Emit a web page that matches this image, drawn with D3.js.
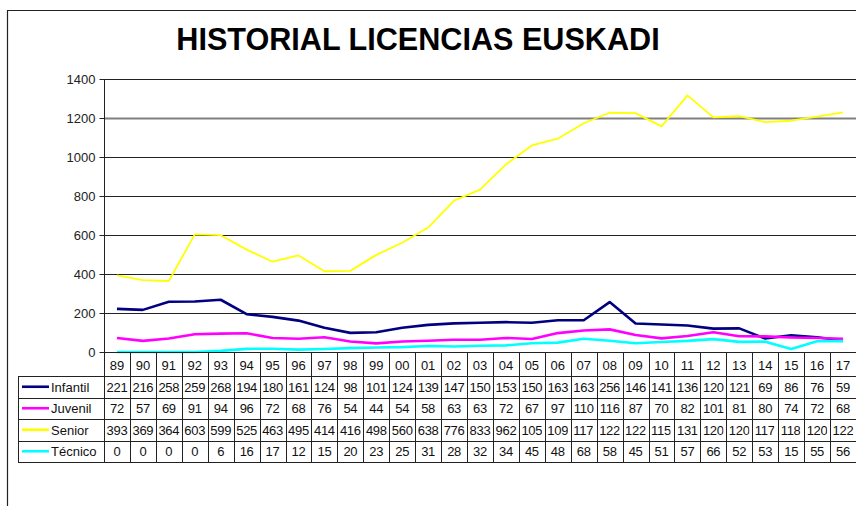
<!DOCTYPE html>
<html>
<head>
<meta charset="utf-8">
<script src="https://cdn.jsdelivr.net/npm/d3@7"></script>
<style>
  body { margin: 0; background: #fff; }
  svg { display: block; font-family: Arial, "Liberation Sans", sans-serif; }
</style>
</head>
<body>
<svg id="chart" width="856" height="506"></svg>
<script>
var years = ['89','90','91','92','93','94','95','96','97','98','99','00','01','02','03','04','05','06','07','08','09','10','11','12','13','14','15','16','17'];
var infantil = [221,216,258,259,268,194,180,161,124,98,101,124,139,147,150,153,150,163,163,256,146,141,136,120,121,69,86,76,59];
var juvenil = [72,57,69,91,94,96,72,68,76,54,44,54,58,63,63,72,67,97,110,116,87,70,82,101,81,80,74,72,68];
var senior = [393,369,364,603,599,525,463,495,414,416,498,560,638,776,833,962,1059,1094,1173,1227,1225,1157,1316,1203,1209,1179,1186,1207,1229];
var tecnico = [0,0,0,0,6,16,17,12,15,20,23,25,31,28,32,34,45,48,68,58,45,51,57,66,52,53,15,55,56];
var yTicks = [0,200,400,600,800,1000,1200,1400];

var series = [
  {name: 'Infantil', values: infantil, color: '#000080', width: 2.6},
  {name: 'Juvenil', values: juvenil, color: '#ff00ff', width: 2.6},
  {name: 'Senior', values: senior, color: '#ffff00', width: 1.8},
  {name: 'Técnico', values: tecnico, color: '#00ffff', width: 2.6}
];

var
  svg = d3.select('#chart'),
  plotLeft = 104,
  plotRight = 856,
  tableLeft = 18,
  headerBottom = 376,
  tableBottom = 462,
  xScale = d3.scaleBand().domain(years).range([plotLeft, plotRight]),
  yScale = d3.scaleLinear().domain([0, 1400]).range([352, 79]),
  rowScale = d3.scaleBand().domain(series.map(d => d.name)).range([headerBottom, tableBottom]),
  line = d3.line().x((d, i) => xScale(years[i]) + xScale.bandwidth() / 2).y(d => yScale(d))
  ;

// outer frame
svg.append('path')
  .attr('d', 'M7.5,506 V10.5 H856')
  .attr('fill', 'none')
  .attr('stroke', '#222')
  .attr('stroke-width', 1.2);

svg.append('text')
  .text('HISTORIAL LICENCIAS EUSKADI')
  .attr('x', 418)
  .attr('y', 50)
  .attr('text-anchor', 'middle')
  .attr('font-size', '30.6px')
  .attr('font-weight', 'bold')
  .attr('fill', '#000');

// gridlines
svg.append('g')
  .selectAll('line')
  .data(yTicks.filter(d => d > 0))
  .enter()
  .append('line')
  .attr('x1', plotLeft)
  .attr('x2', plotRight)
  .attr('y1', d => Math.round(yScale(d)) + 0.5)
  .attr('y2', d => Math.round(yScale(d)) + 0.5)
  .attr('stroke', d => d === 1200 ? '#808080' : '#222')
  .attr('stroke-width', d => d === 1200 ? 2 : 1);

// y axis
var yAxis = d3.axisLeft(yScale).tickValues(yTicks).tickFormat(d3.format('d')).tickSize(5).tickPadding(4);
var gy = svg.append('g')
  .attr('transform', 'translate(' + (plotLeft + 0.5) + ',0)')
  .call(yAxis);
gy.select('.domain').remove();
gy.selectAll('.tick line').attr('stroke', '#222');
gy.selectAll('.tick text')
  .attr('font-size', '13px')
  .attr('font-family', 'Arial, "Liberation Sans", sans-serif')
  .attr('fill', '#222');

// series lines
svg.append('g')
  .selectAll('path')
  .data(series)
  .enter()
  .append('path')
  .attr('d', d => line(d.values))
  .attr('fill', 'none')
  .attr('stroke', d => d.color)
  .attr('stroke-width', d => d.width)
  .attr('stroke-linejoin', 'round');

// data table
var table = svg.append('g').attr('class', 'table');

// horizontal rules
var hLines = [headerBottom].concat(series.map(d => rowScale(d.name) + rowScale.bandwidth()));
table.selectAll('.hrule')
  .data(hLines)
  .enter()
  .append('line')
  .attr('class', 'hrule')
  .attr('x1', tableLeft)
  .attr('x2', plotRight)
  .attr('y1', d => Math.round(d) + 0.5)
  .attr('y2', d => Math.round(d) + 0.5)
  .attr('stroke', '#222');

// x axis line
table.append('line')
  .attr('x1', plotLeft)
  .attr('x2', plotRight)
  .attr('y1', Math.round(yScale(0)) + 0.5)
  .attr('y2', Math.round(yScale(0)) + 0.5)
  .attr('stroke', '#222');

// vertical rules: y axis down through table, and category boundaries
table.append('line')
  .attr('x1', plotLeft + 0.5)
  .attr('x2', plotLeft + 0.5)
  .attr('y1', yScale(1400))
  .attr('y2', tableBottom + 0.5)
  .attr('stroke', '#222');
table.append('line')
  .attr('x1', tableLeft + 0.5)
  .attr('x2', tableLeft + 0.5)
  .attr('y1', headerBottom + 0.5)
  .attr('y2', tableBottom + 0.5)
  .attr('stroke', '#222');
table.selectAll('.vrule')
  .data(years.slice(1))
  .enter()
  .append('line')
  .attr('class', 'vrule')
  .attr('x1', d => Math.round(xScale(d)) + 0.5)
  .attr('x2', d => Math.round(xScale(d)) + 0.5)
  .attr('y1', yScale(0))
  .attr('y2', tableBottom + 0.5)
  .attr('stroke', '#222');

// year header
table.selectAll('.year')
  .data(years)
  .enter()
  .append('text')
  .attr('class', 'year')
  .text(d => d)
  .attr('x', d => xScale(d) + xScale.bandwidth() / 2)
  .attr('y', 370)
  .attr('text-anchor', 'middle')
  .attr('font-size', '13px')
  .attr('fill', '#111');

var defs = svg.append('defs');

var rows = table.selectAll('.row')
  .data(series)
  .enter()
  .append('g')
  .attr('class', 'row')
  .attr('transform', d => 'translate(0,' + (rowScale(d.name) + rowScale.bandwidth() / 2) + ')');

rows.append('line')
  .attr('x1', 22)
  .attr('x2', 49)
  .attr('y1', 0)
  .attr('y2', 0)
  .attr('stroke', d => d.color)
  .attr('stroke-width', 2.6);

rows.append('text')
  .text(d => d.name)
  .attr('x', 51)
  .attr('y', 5)
  .attr('font-size', '13px')
  .attr('fill', '#111');

rows.each(function(s, r) {
  d3.select(this)
    .selectAll('.val')
    .data(s.values)
    .enter()
    .append('text')
    .attr('class', 'val')
    .text(d => d)
    .attr('x', (d, i) => d >= 1000 ? xScale(years[i]) + 2.5 : xScale(years[i]) + xScale.bandwidth() / 2)
    .attr('y', 5)
    .attr('text-anchor', d => d >= 1000 ? 'start' : 'middle')
    .attr('font-size', '13px')
    .attr('letter-spacing', '-0.3px')
    .attr('fill', '#111')
    .each(function(d, i) {
      // too wide for the cell: only the digits that fit are shown
      if (d < 1000) return;
      var id = 'clip' + r + '_' + i,
        x0 = xScale(years[i]) + 2.5,
        w = this.getSubStringLength(0, 3);
      defs.append('clipPath')
        .attr('id', id)
        .append('rect')
        .attr('x', x0 - 1)
        .attr('y', -12)
        .attr('width', w + 0.8)
        .attr('height', 24);
      d3.select(this).attr('clip-path', 'url(#' + id + ')');
    });
});
</script>
</body>
</html>
